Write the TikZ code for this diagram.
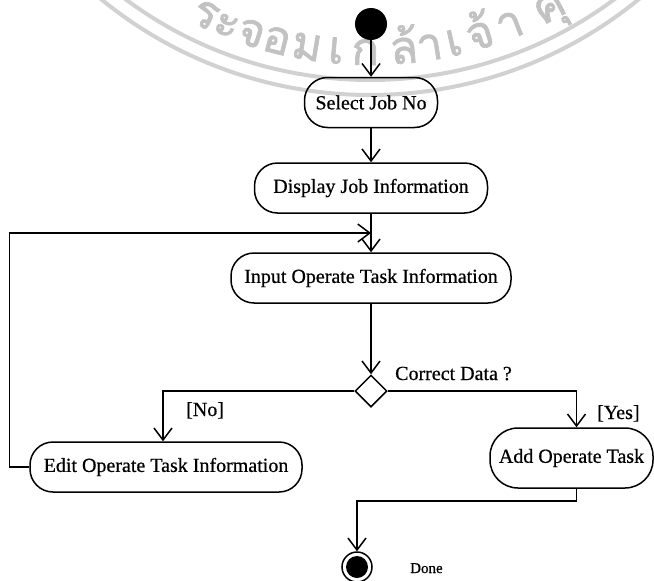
\documentclass[tikz,border=0pt]{standalone}
\usepackage{fontspec}
\setmainfont{Liberation Serif}[FakeBold=0.6]
\newfontfamily\thaifont[Script=Thai,FakeBold=1.5]{Loma}
\usetikzlibrary{arrows.meta,shapes.geometric}
\begin{document}
\begin{tikzpicture}[x=1pt,y=1pt,
  act/.style={draw, line width=1.5pt, rectangle, rounded corners=23pt, minimum height=50pt, inner sep=0pt, font=\fontsize{20}{24}\selectfont},
  arr/.style={line width=1.5pt, -{Straight Barb[length=12pt,width=18pt,line width=1.5pt]}},
  ln/.style={line width=1.5pt},
  lab/.style={font=\fontsize{20}{24}\selectfont, inner sep=0pt, anchor=base west},
  wm/.style={text=black!24, font=\thaifont\fontsize{46}{46}\selectfont, inner sep=0pt, anchor=base},
  wmline/.style={draw=black!18, line width=4pt},
]
\useasboundingbox (0,-581) rectangle (654,0);
% watermark
\begin{scope}
\clip (0,-581) rectangle (654,0);
\begin{scope}[shift={(370,330)}]
  \draw[wmline] (-135:410) arc[start angle=-135, end angle=-45, radius=410];
  \draw[wmline] (-135:425) arc[start angle=-135, end angle=-45, radius=425];
  \foreach \a/\t in {-25.5/ร,-22/ะ,-18.1/จ,-14.1/อ,-9.5/ม,-5.1/เ,-0.7/ก,5.1/ล้,9/า,12.7/เ,16.8/จ้,21.5/า,28/คุ}
    \node[wm, rotate=\a] at (-90+\a:395) {\t};
\end{scope}
\end{scope}
% nodes
\node[circle, fill, minimum size=32pt, inner sep=0pt] (start) at (371,-24) {};
\node[act, minimum width=133pt] (sel) at (371,-102.5) {Select Job No};
\node[act, minimum width=233pt] (disp) at (371,-188) {Display Job Information};
\node[act, minimum width=280pt] (inp) at (371,-278) {Input Operate Task Information};
\node[diamond, draw, line width=1.5pt, minimum width=32pt, minimum height=32pt, inner sep=0pt, fill=white] (dia) at (371,-391) {};
\node[act, minimum width=272pt] (edit) at (166,-467) {Edit Operate Task Information};
\node[act, minimum width=163pt, minimum height=60pt, rounded corners=28pt] (add) at (571.5,-458) {Add Operate Task};
\node[circle, draw, line width=1.5pt, minimum size=30pt, inner sep=0pt,
  path picture={\fill (path picture bounding box.center) circle (11pt);}] (final) at (357,-567) {};
\coordinate (m) at (371,-233);
% connectors
\draw[arr] (start) -- (sel);
\draw[arr] (sel) -- (disp);
\draw[arr] (disp) -- (inp);
\draw[arr] (edit.west) -- ++(-20,0) |- (m);
\draw[arr] (inp) -- (dia);
\draw[arr] (dia.west) -| ([xshift=-3pt]edit.north);
\draw[arr] (dia.east) -| ([xshift=5pt]add.north);
\draw[arr] ([xshift=5pt]add.south) -- ++(0,-12) -| (final.north);
% labels
\node[lab] (lcd) at (395,-380) {Correct Data ?};
\node[lab] (lno) at (186,-416) {[No]};
\node[lab] (lyes) at (597,-419) {[Yes]};
\node[lab, font=\fontsize{15}{18}\selectfont] (ldone) at (410,-573) {Done};
\end{tikzpicture}
\end{document}
